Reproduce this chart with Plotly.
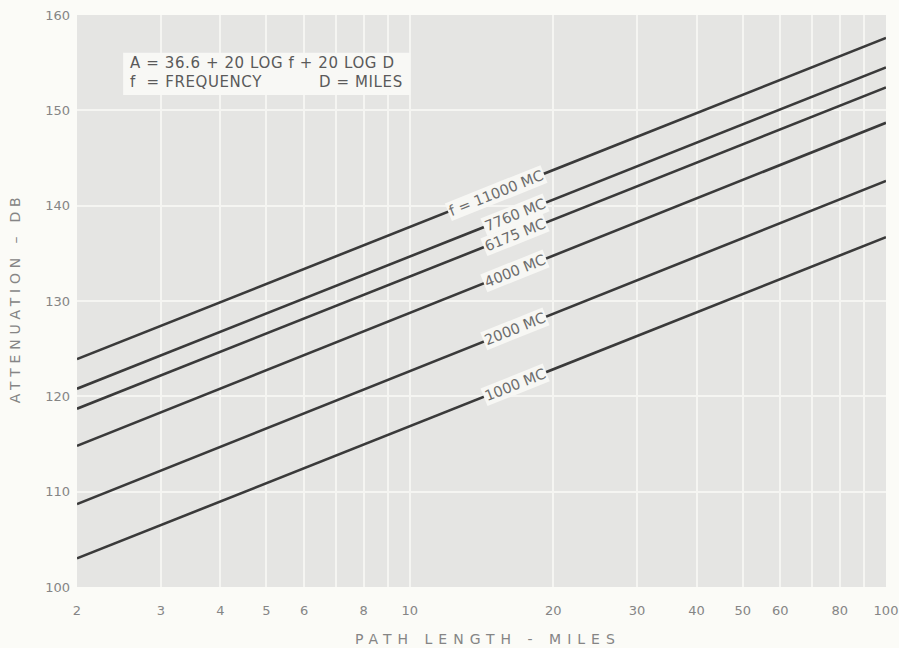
import numpy as np
import plotly.graph_objects as go

# ---- data ----
frequencies = ["11000", "7760", "6175", "4000", "2000", "1000"]
label_texts = ["f = 11000 MC", "7760 MC", "6175 MC", "4000 MC", "2000 MC", "1000 MC"]
distance_ends = [2, 100]                      # miles
atten_at_2 = [123.9, 120.8, 118.7, 114.8, 108.7, 103.0]     # dB at 2 miles
atten_at_100 = [157.6, 154.5, 152.4, 148.7, 142.6, 136.7]   # dB at 100 miles
label_at_miles = [15.2, 16.6, 16.6, 16.6, 16.6, 16.6]       # where each label sits

x_tick_vals = [2, 3, 4, 5, 6, 7, 8, 9, 10, 20, 30, 40, 50, 60, 70, 80, 90, 100]
x_tick_text = ["2", "3", "4", "5", "6", "", "8", "", "10", "20", "30", "40", "50", "60", "", "80", "", "100"]
y_tick_vals = [100, 110, 120, 130, 140, 150, 160]

formula_line1 = "A = 36.6 + 20 LOG f + 20 LOG D"
formula_line2a = "f  = FREQUENCY"
formula_line2b = "D = MILES"
x_title = "PATH LENGTH - MILES"
y_title = "ATTENUATION – DB"

# ---- style ----
LINE_COL = "#3a3a3a"
TEXT_COL = "#858585"
PLOT_BG = "#e5e5e3"
PAPER_BG = "#fbfbf7"
GRID_COL = "#f5f5f2"
FONT = "DejaVu Sans"

fig = go.Figure()
for f, a2, a100 in zip(frequencies, atten_at_2, atten_at_100):
    fig.add_trace(go.Scatter(
        x=distance_ends, y=[a2, a100], mode="lines",
        line=dict(color=LINE_COL, width=2.6), name=f, showlegend=False,
        hoverinfo="skip"))

# line labels placed on the lines (value interpolated along the log axis)
lx0, lx1 = np.log10(distance_ends[0]), np.log10(distance_ends[1])
for txt, a2, a100, d in zip(label_texts, atten_at_2, atten_at_100, label_at_miles):
    t = (np.log10(d) - lx0) / (lx1 - lx0)
    yv = a2 + (a100 - a2) * t
    fig.add_annotation(
        x=np.log10(d), y=yv, xref="x", yref="y", text=txt, showarrow=False,
        textangle=-21.8, font=dict(family=FONT, size=14.5, color="#6c6c6c"),
        bgcolor="#f7f7f4", borderpad=1, xanchor="center", yanchor="middle")

# formula box
fig.add_shape(type="rect", xref="paper", yref="paper",
              x0=0.057, x1=0.412, y0=0.860, y1=0.934,
              fillcolor="#f8f8f5", line=dict(width=0), layer="above")
for txt, px, py in [(formula_line1, 0.063, 0.916),
                    (formula_line2a, 0.063, 0.883),
                    (formula_line2b, 0.297, 0.883)]:
    fig.add_annotation(xref="paper", yref="paper", x=px, y=py, text=txt,
                       showarrow=False, xanchor="left", yanchor="middle", align="left",
                       font=dict(family=FONT, size=15, color="#5a5a5a"))

# axis titles
fig.add_annotation(xref="paper", yref="paper", x=0.508, y=-0.0915, text=x_title,
                   showarrow=False, xanchor="center", yanchor="middle",
                   font=dict(family=FONT, size=14, color=TEXT_COL))
fig.add_annotation(xref="paper", yref="paper", x=-0.077, y=0.505, text=y_title,
                   textangle=-90, showarrow=False, xanchor="center", yanchor="middle",
                   font=dict(family=FONT, size=14, color=TEXT_COL))

fig.update_layout(
    width=899, height=648,
    margin=dict(l=77, r=13, t=15, b=61, autoexpand=False),
    paper_bgcolor=PAPER_BG, plot_bgcolor=PLOT_BG,
    font=dict(family=FONT, size=13, color=TEXT_COL),
    xaxis=dict(type="log", range=[lx0, lx1], tickvals=x_tick_vals, ticktext=x_tick_text,
               showgrid=True, gridcolor=GRID_COL, gridwidth=2, zeroline=False,
               showline=False, ticks="", ticklabelstandoff=14, automargin=False,
               tickfont=dict(family=FONT, size=13, color=TEXT_COL)),
    yaxis=dict(range=[100, 160], tickvals=y_tick_vals,
               showgrid=True, gridcolor=GRID_COL, gridwidth=2, zeroline=False,
               showline=False, ticks="", ticklabelstandoff=6, automargin=False,
               tickfont=dict(family=FONT, size=13, color=TEXT_COL)),
)

post = """
document.body.style.margin = '0';
document.body.style.padding = '0';
document.body.style.background = '#fbfbf7';
document.querySelectorAll('.annotation-text').forEach(function(t){
  var s = t.textContent || '';
  if (s.indexOf('ATTENUATION') === 0) { t.style.letterSpacing = '4.8px'; }
  if (s.indexOf('PATH') === 0) { t.style.letterSpacing = '6px'; }
  if (s.indexOf('A = ') === 0 || s.indexOf('f  =') === 0 || s.indexOf('D = ') === 0) {
    t.style.letterSpacing = '0.6px';
  }
});
"""
fig.write_html("out.html", post_script=post, config={"displayModeBar": False})
